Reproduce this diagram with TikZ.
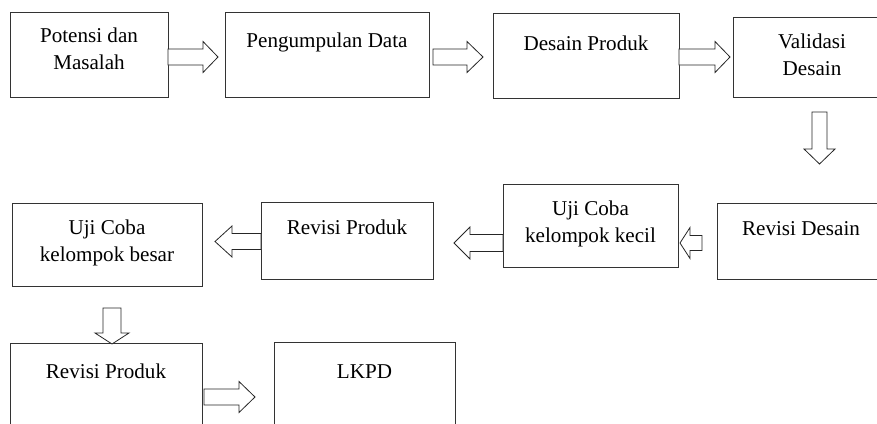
\documentclass[tikz,border=0pt]{standalone}
\usepackage{fontspec}
\setmainfont{Liberation Serif}
\newcommand{\harrowX}[6]{%
  \draw[blk] (#1,#4-#5) -- (#2,#4-#5) -- (#2,#4-#6) -- (#3,#4) -- (#2,#4+#6) -- (#2,#4+#5) -- (#1,#4+#5) -- cycle;}
\newcommand{\varrowX}[6]{%
  \draw[blk] (#1-#5,#2) -- (#1-#5,#3) -- (#1-#6,#3) -- (#1,#4) -- (#1+#6,#3) -- (#1+#5,#3) -- (#1+#5,#2) -- cycle;}
\tikzset{
  box/.style={draw=black!80, line width=0.9pt, rectangle, inner sep=0pt, anchor=north west},
  txt/.style={anchor=base, inner sep=0pt, font=\fontsize{21.1}{27}\selectfont},
  blk/.style={draw=black!85, line width=0.8pt, fill=white, line join=miter}
}
\begin{document}
\begin{tikzpicture}[x=1pt,y=-1pt]
\useasboundingbox (0,0) rectangle (877,423);
\clip (0,0) rectangle (877,423);
\fill[white] (0,0) rectangle (877,423);
% boxes
\node[box, minimum width=158pt, minimum height=85pt] (b1) at (10,12) {};
\node[box, minimum width=204pt, minimum height=85pt] (b2) at (225,12) {};
\node[box, minimum width=186pt, minimum height=85pt] (b3) at (493,13) {};
\node[box, minimum width=158pt, minimum height=80pt] (b4) at (733,17) {};
\node[box, minimum width=168pt, minimum height=76pt] (b5) at (717,203) {};
\node[box, minimum width=175pt, minimum height=83pt] (b6) at (503,184) {};
\node[box, minimum width=172pt, minimum height=77pt] (b7) at (261,202) {};
\node[box, minimum width=190pt, minimum height=83pt] (b8) at (12,203) {};
\node[box, minimum width=192pt, minimum height=100pt] (b9) at (10,343) {};
\node[box, minimum width=181pt, minimum height=100pt] (b10) at (274,342) {};
% texts
\node[txt] (t1a) at (89,42) {Potensi dan};
\node[txt] (t1b) at (89,69) {Masalah};
\node[txt] (t2) at (327,47) {Pengumpulan Data};
\node[txt] (t3) at (586,50) {Desain Produk};
\node[txt] (t4a) at (812,48) {Validasi};
\node[txt] (t4b) at (812,75) {Desain};
\node[txt] (t5) at (801,235) {Revisi Desain};
\node[txt] (t6a) at (590.5,215) {Uji Coba};
\node[txt] (t6b) at (590.5,242) {kelompok kecil};
\node[txt] (t7) at (347,234) {Revisi Produk};
\node[txt] (t8a) at (107,234) {Uji Coba};
\node[txt] (t8b) at (107,261) {kelompok besar};
\node[txt] (t9) at (106,378) {Revisi Produk};
\node[txt] (t10) at (364.5,378) {LKPD};
% block arrows
\harrowX{168}{203}{218}{57}{8}{15.5}
\harrowX{433}{467}{483}{57}{8}{15.5}
\harrowX{679}{715}{730}{57}{8}{15.5}
\varrowX{819.5}{112}{149}{164}{7.5}{15.5}
\harrowX{702}{690}{680}{243}{7.5}{15.5}
\harrowX{503}{470}{454}{243}{8.5}{16}
\harrowX{261}{232}{215}{241.5}{8}{15.5}
\varrowX{112}{308}{333}{344}{9}{17}
\harrowX{204}{239}{255}{397}{8}{15.5}
\end{tikzpicture}
\end{document}
